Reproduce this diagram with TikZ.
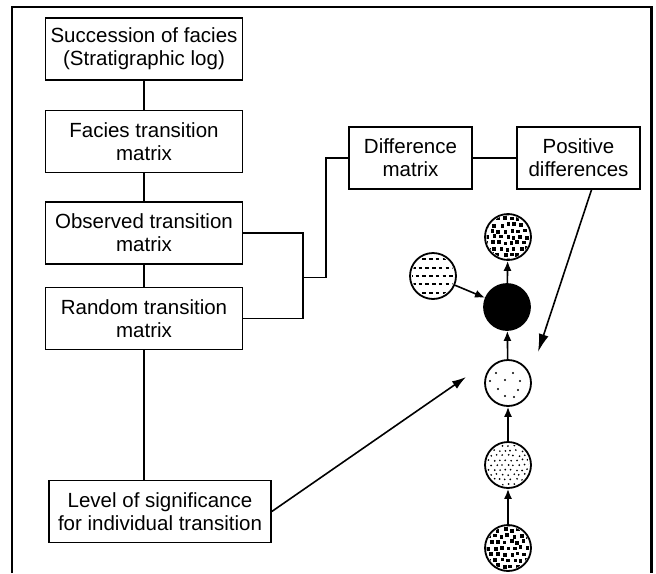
\documentclass[tikz,border=0pt]{standalone}
\usepackage{fontspec}
\setmainfont{Liberation Sans}
\usetikzlibrary{arrows.meta,calc}

\tikzset{
  caja/.style={draw, line width=1.6pt, rectangle, align=center, inner sep=0pt,
    minimum width=197pt, minimum height=62pt, font=\fontsize{20.5}{23}\selectfont},
  facies/.style={draw, circle, line width=1.8pt, minimum size=46pt, inner sep=0pt},
  flecha/.style={-{Latex[length=10pt,width=8pt]}, line width=1.6pt},
}

\begin{document}
\begin{tikzpicture}[x=1pt, y=-1pt]
    \useasboundingbox (0,0) rectangle (656,573);

    % Marco
    \draw[line width=1.5pt] (12,573) -- (12,7) -- (651,7);
    \draw[line width=3pt] (651,6) -- (651,573);

    % Cajas de la columna izquierda
    \node[caja] (suc) at (144,49) {Succession of facies\\(Stratigraphic log)};
    \node[caja] (fac) at (144,141.5) {Facies transition\\matrix};
    \node[caja] (obs) at (144,233) {Observed transition\\matrix};
    \node[caja] (ran) at (144,318.5) {Random transition\\matrix};
    \node[caja, minimum width=222pt] (sig) at (160,511.5) {Level of significance\\for individual transition};

    % Cajas de diferencias
    \node[caja, minimum width=123pt] (dif) at (410.5,158) {Difference\\matrix};
    \node[caja, minimum width=123pt] (pos) at (578.5,158) {Positive\\differences};

    % Conexiones
    \draw[line width=1.6pt] (suc) -- (fac);
    \draw[line width=1.6pt] (fac) -- (obs);
    \draw[line width=1.6pt] (obs) -- (ran);
    \draw[line width=1.6pt] (ran.south) -- (ran.south |- sig.north);
    \coordinate (union) at (303,277.5);
    \draw[line width=1.6pt] (obs.east) -| (union) |- (ran.east);
    \draw[line width=1.6pt] (union) -- (326,277.5) |- (dif.west);
    \draw[line width=1.6pt] (dif) -- (pos);

    % Facies (circulos)
    \node[facies] (ctop) at (508,237) {};
    \node[facies] (cleft) at (433,276) {};
    \node[facies, fill=black] (cnegro) at (507,307) {};
    \node[facies] (cpocos) at (508,383) {};
    \node[facies] (cfinos) at (508,465) {};
    \node[facies] (cbot) at (508,548) {};

    % Relleno de cuadrados
    \pgfmathsetseed{5}
    \foreach \nodo in {ctop, cbot} {
      \begin{scope}
        \clip (\nodo) circle (21.5pt);
        \foreach \i in {-4,...,4}
          \foreach \j in {-4,...,4}
            \fill ($(\nodo)+({\i*6.5+mod(abs(\j),2)*3.2+rand*1.2-1.7},{\j*6+rand*1.2-1.7})$) rectangle ++(3.6,3.6);
      \end{scope}
    }

    % Relleno de rayas
    \begin{scope}
      \clip (cleft) circle (21pt);
      \foreach \j in {-2,...,2}
        \draw[line width=2pt, dash pattern=on 3.5pt off 3.2pt]
          ($(cleft)+({-24+mod(abs(\j),2)*3},{\j*8.3})$) -- ++(48,0);
    \end{scope}

    % Puntos dispersos
    \foreach \dx/\dy in {-12/-10, 5/-10, -3/-3, 12/-2, -18/-2, -10/6, 10/7, -3/13, 6/14}
      \fill ($(cpocos)+(\dx,\dy)$) circle (1.1pt);

    % Puntos finos
    \begin{scope}
      \clip (cfinos) circle (21pt);
      \foreach \i in {-4,...,4}
        \foreach \j in {-5,...,5}
          \fill ($(cfinos)+({\i*5.6+mod(abs(\j),2)*2.8+rand*0.8},{\j*4.8+rand*0.8})$) circle (0.95pt);
    \end{scope}

    % Flechas entre facies
    \draw[flecha] (cbot) -- (cfinos);
    \draw[flecha] (cfinos) -- (cpocos);
    \draw[flecha] (cpocos) -- (cnegro);
    \draw[flecha] (cnegro) -- (ctop);
    \draw[flecha] (cleft) -- (cnegro);

    % Flechas desde las cajas
    \coordinate (finpos) at (538,352);
    \coordinate (finsig) at (466,377);
    \draw[-{Latex[length=18pt,width=10pt]}, line width=1.6pt] ([xshift=13pt]pos.south) -- (finpos);
    \draw[-{Latex[length=14pt,width=9pt]}, line width=1.6pt] (sig.east) -- (finsig);
\end{tikzpicture}
\end{document}
